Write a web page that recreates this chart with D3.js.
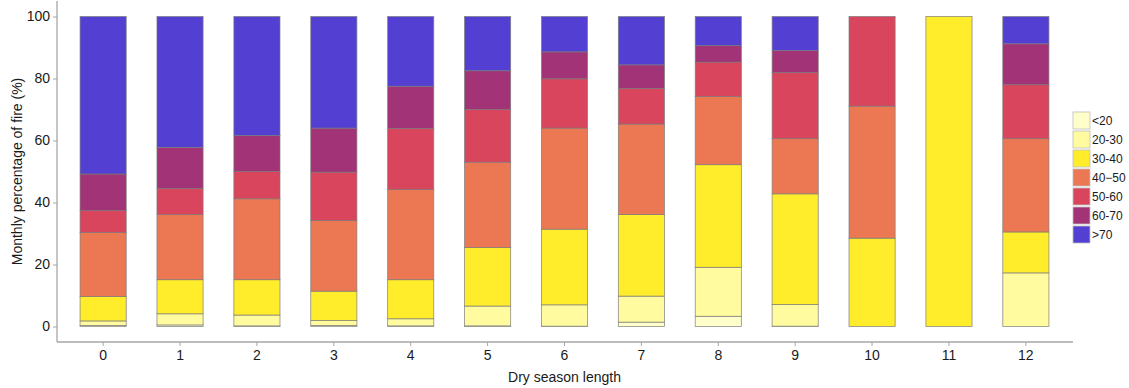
<!DOCTYPE html>
<html>
<head>
<meta charset="utf-8">
<script src="https://cdn.jsdelivr.net/npm/d3@7"></script>
<style>
  html, body { margin: 0; padding: 0; background: #fff; }
  svg { display: block; font-family: "Liberation Sans", Arial, sans-serif; }
</style>
</head>
<body>
<svg id="chart" width="1129" height="388"></svg>
<script>
// Dry season length categories
const categories = ["0","1","2","3","4","5","6","7","8","9","10","11","12"];

// Share of monthly fire (%) by class, one array per class
const lt20   = [0.3, 0.5, 0.2, 0.3, 0.2, 0.2, 0.1, 1.4, 3.3, 0.1, 0, 0, 0];
const r20_30 = [1.5, 3.6, 3.5, 1.6, 2.3, 6.4, 6.9, 8.4, 15.8, 7.0, 0, 0, 17.3];
const r30_40 = [7.9, 11.0, 11.4, 9.5, 12.6, 18.9, 24.4, 26.3, 33.1, 35.7, 28.5, 100, 13.2];
const r40_50 = [20.6, 21.0, 26.1, 22.8, 29.1, 27.5, 32.6, 29.2, 22.0, 17.8, 42.6, 0, 30.1];
const r50_60 = [7.1, 8.4, 8.8, 15.6, 19.7, 17.0, 15.9, 11.5, 11.1, 21.3, 28.9, 0, 17.4];
const r60_70 = [11.8, 13.3, 11.6, 14.2, 13.6, 12.5, 8.7, 7.6, 5.3, 7.1, 0, 0, 13.2];
const gt70   = [50.8, 42.2, 38.4, 36.0, 22.5, 17.5, 11.4, 15.6, 9.4, 11.0, 0, 0, 8.8];

const seriesKeys = ["<20", "20-30", "30-40", "40\u221250", "50-60", "60-70", ">70"];
const seriesValues = [lt20, r20_30, r30_40, r40_50, r50_60, r60_70, gt70];
const seriesColors = ["#FFFFCC", "#FFFB9E", "#FFEC2A", "#EC7853", "#DA455E", "#A23376", "#5340D3"];
const yTicks = [0, 20, 40, 60, 80, 100];

// Build a row per category for d3.stack
const rows = categories.map((c, i) => {
  const r = { cat: c };
  seriesKeys.forEach((k, j) => { r[k] = seriesValues[j][i]; });
  return r;
});

const svg = d3.select("#chart");
const plotLeft = 57, plotRight = 1072, plotTop = 1, plotBottom = 342;

const x = d3.scaleBand()
  .domain(categories)
  .range([plotLeft, plotRight])
  .paddingInner(0.4)
  .paddingOuter(0.3);

const y = d3.scaleLinear()
  .domain([-5, 105])
  .range([plotBottom, plotTop]);

const color = d3.scaleOrdinal().domain(seriesKeys).range(seriesColors);

const stacked = d3.stack().keys(seriesKeys)(rows);

// Bars
const layers = svg.append("g")
  .selectAll("g")
  .data(stacked)
  .join("g")
  .attr("fill", d => color(d.key));

layers.selectAll("rect")
  .data(d => d.filter(s => s[1] - s[0] > 0))
  .join("rect")
  .attr("x", d => x(d.data.cat))
  .attr("width", x.bandwidth())
  .attr("y", d => y(d[1]))
  .attr("height", d => y(d[0]) - y(d[1]))
  .attr("stroke", "#7a7a7a")
  .attr("stroke-opacity", 0.85)
  .attr("stroke-width", 0.8);

// Axes
const axisColor = "#a6a6a6";
const yAxis = svg.append("g")
  .attr("transform", `translate(${plotLeft},0)`)
  .call(d3.axisLeft(y).tickValues(yTicks).tickSize(4).tickPadding(3));
yAxis.select(".domain").remove();
yAxis.selectAll(".tick line").attr("stroke", axisColor);
yAxis.selectAll(".tick text").attr("fill", "#1a1a1a").style("font-size", "14px");

const xAxis = svg.append("g")
  .attr("transform", `translate(0,${plotBottom})`)
  .call(d3.axisBottom(x).tickSize(4).tickPadding(4));
xAxis.select(".domain").remove();
xAxis.selectAll(".tick line").attr("stroke", axisColor);
xAxis.selectAll(".tick text").attr("fill", "#1a1a1a").style("font-size", "14px");

// Axis lines (L-shaped frame)
svg.append("line")
  .attr("x1", plotLeft).attr("x2", plotLeft)
  .attr("y1", plotTop).attr("y2", plotBottom)
  .attr("stroke", axisColor).attr("stroke-width", 1.3);
svg.append("line")
  .attr("x1", plotLeft).attr("x2", plotRight + 1)
  .attr("y1", plotBottom).attr("y2", plotBottom)
  .attr("stroke", axisColor).attr("stroke-width", 1.3);

// Axis titles
svg.append("text")
  .attr("x", (plotLeft + plotRight) / 2)
  .attr("y", 382)
  .attr("text-anchor", "middle")
  .attr("fill", "#1a1a1a")
  .style("font-size", "14px")
  .text("Dry season length");

svg.append("text")
  .attr("transform", `translate(22,${(y(0) + y(100)) / 2}) rotate(-90)`)
  .attr("text-anchor", "middle")
  .attr("fill", "#1a1a1a")
  .style("font-size", "14px")
  .text("Monthly percentage of fire (%)");

// Legend
const legend = svg.append("g").attr("transform", "translate(1073,112)");
const item = legend.selectAll("g")
  .data(seriesKeys)
  .join("g")
  .attr("transform", (d, i) => `translate(0,${i * 19})`);
item.append("rect")
  .attr("width", 17).attr("height", 17)
  .attr("fill", d => color(d))
  .attr("stroke", "#bdbdbd")
  .attr("stroke-width", 0.8);
item.append("text")
  .attr("x", 19).attr("y", 8.5)
  .attr("dy", "0.35em")
  .attr("fill", "#1a1a1a")
  .style("font-size", "12px")
  .text(d => d);
</script>
</body>
</html>
